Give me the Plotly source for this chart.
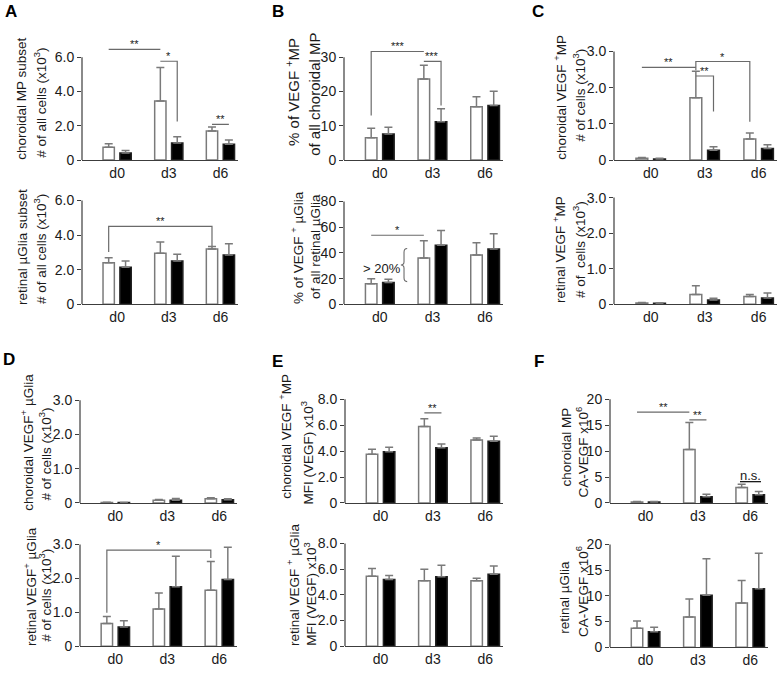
import plotly.graph_objects as go

W, H = 781, 673
days = ["d0", "d3", "d6"]
xidx = [0, 1, 2]

# ---------------- data: bar means and upper error (SEM) ----------------
A1_white = [0.75, 3.45, 1.70]
A1_white_err = [0.20, 1.95, 0.23]
A1_black = [0.42, 1.00, 0.92]
A1_black_err = [0.14, 0.36, 0.25]
A1_ticks = [0, 2, 4, 6]
A1_labels = ["0", "2.0", "4.0", "6.0"]

A2_white = [2.40, 2.95, 3.20]
A2_white_err = [0.30, 0.65, 0.15]
A2_black = [2.15, 2.50, 2.85]
A2_black_err = [0.35, 0.40, 0.65]
A2_ticks = [0, 2, 4, 6]
A2_labels = ["0", "2.0", "4.0", "6.0"]

B1_white = [6.5, 23.7, 15.6]
B1_white_err = [2.8, 4.0, 2.9]
B1_black = [7.6, 11.2, 15.9]
B1_black_err = [2.0, 3.8, 4.2]
B1_ticks = [0, 10, 20, 30]
B1_labels = ["0", "10", "20", "30"]

B2_white = [16.0, 36.0, 38.5]
B2_white_err = [4.0, 13.5, 9.5]
B2_black = [17.0, 46.0, 43.0]
B2_black_err = [2.5, 11.5, 12.0]
B2_ticks = [0, 20, 40, 60, 80]
B2_labels = ["0", "20", "40", "60", "80"]

C1_white = [0.05, 1.72, 0.58]
C1_white_err = [0.02, 0.73, 0.17]
C1_black = [0.03, 0.27, 0.32]
C1_black_err = [0.02, 0.10, 0.10]
C1_ticks = [0, 1, 2, 3]
C1_labels = ["0", "1.0", "2.0", "3.0"]

C2_white = [0.04, 0.28, 0.22]
C2_white_err = [0.01, 0.24, 0.06]
C2_black = [0.03, 0.12, 0.18]
C2_black_err = [0.01, 0.05, 0.14]
C2_ticks = [0, 1, 2, 3]
C2_labels = ["0", "1.0", "2.0", "3.0"]

D1_white = [0.01, 0.08, 0.12]
D1_white_err = [0.01, 0.02, 0.03]
D1_black = [0.01, 0.08, 0.09]
D1_black_err = [0.005, 0.05, 0.03]
D1_ticks = [0, 1, 2, 3]
D1_labels = ["0", "1.0", "2.0", "3.0"]

D2_white = [0.67, 1.10, 1.65]
D2_white_err = [0.21, 0.47, 0.85]
D2_black = [0.57, 1.75, 1.97]
D2_black_err = [0.18, 0.90, 0.95]
D2_ticks = [0, 1, 2, 3]
D2_labels = ["0", "1.0", "2.0", "3.0"]

E1_white = [3.75, 5.90, 4.85]
E1_white_err = [0.40, 0.60, 0.15]
E1_black = [3.95, 4.25, 4.75]
E1_black_err = [0.35, 0.30, 0.40]
E1_ticks = [0, 2, 4, 6, 8]
E1_labels = ["0", "2.0", "4.0", "6.0", "8.0"]

E2_white = [5.45, 5.10, 5.10]
E2_white_err = [0.60, 0.90, 0.20]
E2_black = [5.20, 5.40, 5.60]
E2_black_err = [0.30, 0.90, 0.65]
E2_ticks = [0, 2, 4, 6, 8]
E2_labels = ["0", "2.0", "4.0", "6.0", "8.0"]

F1_white = [0.20, 10.3, 3.00]
F1_white_err = [0.10, 5.2, 0.60]
F1_black = [0.20, 1.20, 1.60]
F1_black_err = [0.10, 0.50, 0.60]
F1_ticks = [0, 5, 10, 15, 20]
F1_labels = ["0", "5", "10", "15", "20"]

F2_white = [3.7, 5.9, 8.6]
F2_white_err = [1.4, 3.5, 4.4]
F2_black = [3.0, 10.1, 11.4]
F2_black_err = [0.9, 7.1, 6.9]
F2_ticks = [0, 5, 10, 15, 20]
F2_labels = ["0", "5", "10", "15", "20"]

# ---------------- panel layout (pixel boxes of the axes) ----------------
panels = [
    dict(key="A1", w=A1_white, we=A1_white_err, b=A1_black, be=A1_black_err, tv=A1_ticks, tt=A1_labels, box=(82, 238, 58, 162),
         t1=("choroidal MP subset", 22, 100), t2=("# of all cells (x10<sup>3</sup>)", 40, 104), fs=13.5),
    dict(key="A2", w=A2_white, we=A2_white_err, b=A2_black, be=A2_black_err, tv=A2_ticks, tt=A2_labels, box=(82, 238, 203, 308),
         t1=("retinal µGlia subset", 22, 250), t2=("# of all cells (x10<sup>3</sup>)", 40, 252), fs=13.5),
    dict(key="B1", w=B1_white, we=B1_white_err, b=B1_black, be=B1_black_err, tv=B1_ticks, tt=B1_labels, box=(344, 503, 58, 162),
         t1=("% of VEGF <sup>+</sup>MP", 293, 93), t2=("of all choroidal MP", 315, 96), fs=15),
    dict(key="B2", w=B2_white, we=B2_white_err, b=B2_black, be=B2_black_err, tv=B2_ticks, tt=B2_labels, box=(344, 503, 204, 308),
         t1=("% of VEGF <sup>+</sup> µGlia", 297, 251), t2=("of all retinal µGlia", 315, 250), fs=13.5),
    dict(key="C1", w=C1_white, we=C1_white_err, b=C1_black, be=C1_black_err, tv=C1_ticks, tt=C1_labels, box=(614, 777, 52, 162),
         t1=("choroidal VEGF <sup>+</sup>MP", 560, 99), t2=("# of cells (x10<sup>3</sup>)", 579, 97), fs=13.5),
    dict(key="C2", w=C2_white, we=C2_white_err, b=C2_black, be=C2_black_err, tv=C2_ticks, tt=C2_labels, box=(614, 777, 200, 308),
         t1=("retinal VEGF <sup>+</sup>MP", 559, 253), t2=("# of  cells (x10<sup>3</sup>)", 579, 253), fs=13.5),
    dict(key="D1", w=D1_white, we=D1_white_err, b=D1_black, be=D1_black_err, tv=D1_ticks, tt=D1_labels, box=(80, 237, 405, 509),
         t1=("choroidal VEGF<sup>+</sup> µGlia", 27, 448), t2=("# of cells (x10<sup>3</sup>)", 45, 460), fs=13.5),
    dict(key="D2", w=D2_white, we=D2_white_err, b=D2_black, be=D2_black_err, tv=D2_ticks, tt=D2_labels, box=(80, 237, 551, 654),
         t1=("retinal VEGF<sup>+</sup> µGlia", 30, 593), t2=("# of cells (x10<sup>3</sup>)", 45, 603), fs=13.5),
    dict(key="E1", w=E1_white, we=E1_white_err, b=E1_black, be=E1_black_err, tv=E1_ticks, tt=E1_labels, box=(345, 503, 404, 509),
         t1=("choroidal VEGF <sup>+</sup>MP", 285, 442), t2=("MFI (VEGF) x10<sup>3</sup>", 307, 458), fs=13.5),
    dict(key="E2", w=E2_white, we=E2_white_err, b=E2_black, be=E2_black_err, tv=E2_ticks, tt=E2_labels, box=(345, 503, 550, 654),
         t1=("retinal VEGF <sup>+</sup> µGlia", 293, 592), t2=("MFI (VEGF) x10<sup>3</sup>", 310, 601), fs=13.5),
    dict(key="F1", w=F1_white, we=F1_white_err, b=F1_black, be=F1_black_err, tv=F1_ticks, tt=F1_labels, box=(610, 768, 404, 509),
         t1=("choroidal MP", 567, 453), t2=("CA-VEGF x10<sup>6</sup>", 582, 458), fs=13.5),
    dict(key="F2", w=F2_white, we=F2_white_err, b=F2_black, be=F2_black_err, tv=F2_ticks, tt=F2_labels, box=(610, 768, 551, 655),
         t1=("retinal µGlia", 565, 605), t2=("CA-VEGF x10<sup>6</sup>", 582, 599), fs=13.5),
]

panel_letters = [("A", 11, 12), ("B", 278, 12), ("C", 538, 12), ("D", 9, 364), ("E", 277, 366), ("F", 539, 366)]

# significance brackets: (panel, [(day index, 'w'/'b', y), ...], label)
brackets = [
    ("A1", [(0, "w", 6.46), (1, "w", 6.46)], "**"),
    ("A1", [(1, "w", 5.77), (1, "b", 5.77), (1, "b", 2.25)], "*"),
    ("A1", [(2, "w", 2.08), (2, "b", 2.08)], "**"),
    ("A2", [(0, "w", 3.03), (0, "w", 4.51), (2, "w", 4.51), (2, "w", 3.37)], "**"),
    ("B1", [(0, "w", 13.0), (0, "w", 31.7), (1, "w", 31.7)], "***"),
    ("B1", [(1, "w", 28.8), (1, "b", 28.8), (1, "b", 15.9)], "***"),
    ("B2", [(0, "w", 53.8), (1, "w", 53.8)], "*"),
    ("C1", [(0, "w", 2.56), (1, "w", 2.56)], "**"),
    ("C1", [(1, "w", 2.32), (1, "b", 2.32), (1, "b", 1.34)], "**"),
    ("C1", [(1, "w", 2.48), (1, "w", 2.72), (2, "w", 2.72), (2, "w", 1.06)], "*"),
    ("D2", [(0, "w", 0.99), (0, "w", 2.83), (2, "w", 2.83), (2, "w", 2.60)], "*"),
    ("E1", [(1, "w", 6.95), (1, "b", 6.95)], "**"),
    ("F1", [(0, "w", 17.5), (1, "w", 17.5)], "**"),
    ("F1", [(1, "w", 16.0), (1, "b", 16.0)], "**"),
]

FONT = "Liberation Sans, Arial, sans-serif"
TXT = "#1a1a1a"
AX = "#3c3c3c"
BAR_EDGE = "#7a7a7a"
ERR = "#7a7a7a"
SIG = "#6a6a6a"
XR = [-0.68, 2.34]
EXT = 1.2
OFF = 0.1635

fig = go.Figure()
lay = {}
shapes = []
annots = []
idx_of = {}

for i, p in enumerate(panels, start=1):
    xa = "x" if i == 1 else f"x{i}"
    ya = "y" if i == 1 else f"y{i}"
    idx_of[p["key"]] = (xa, ya)
    left, right, top, bottom = p["box"]
    ymax = p["tv"][-1]
    top_ext = bottom - (bottom - top) * EXT
    lay["xaxis" if i == 1 else f"xaxis{i}"] = dict(
        domain=[left / W, right / W], range=XR, anchor=ya, tickvals=xidx, ticktext=days,
        showline=True, linecolor=AX, linewidth=1.2, ticks="", showgrid=False, zeroline=False,
        tickfont=dict(size=14, color=TXT, family=FONT), fixedrange=True)
    lay["yaxis" if i == 1 else f"yaxis{i}"] = dict(
        domain=[1 - bottom / H, 1 - top_ext / H], range=[0, ymax * EXT], anchor=xa,
        tickvals=p["tv"], ticktext=p["tt"], showline=False, ticks="outside", ticklen=4,
        tickwidth=1.2, tickcolor=AX, showgrid=False, zeroline=False,
        tickfont=dict(size=14, color=TXT, family=FONT), fixedrange=True)
    shapes.append(dict(type="line", xref=f"{xa} domain", yref=ya, x0=0, x1=0, y0=0, y1=ymax,
                       line=dict(color=AX, width=1.2)))
    fig.add_trace(go.Bar(x=xidx, y=p["w"], xaxis=xa, yaxis=ya, showlegend=False,
                         marker=dict(color="white", line=dict(color=BAR_EDGE, width=1.5)),
                         error_y=dict(type="data", array=p["we"], arrayminus=[0, 0, 0], symmetric=False,
                                      color=ERR, thickness=1.5, width=4)))
    fig.add_trace(go.Bar(x=xidx, y=p["b"], xaxis=xa, yaxis=ya, showlegend=False,
                         marker=dict(color="black", line=dict(color="#222222", width=1.5)),
                         error_y=dict(type="data", array=p["be"], arrayminus=[0, 0, 0], symmetric=False,
                                      color=ERR, thickness=1.5, width=4)))
    for (txt, px, py) in (p["t1"], p["t2"]):
        annots.append(dict(text=txt, x=px / W, y=1 - py / H, xref="paper", yref="paper",
                           textangle=-90, showarrow=False, xanchor="center", yanchor="middle",
                           font=dict(size=p["fs"], color=TXT, family=FONT)))

for (key, pts, label) in brackets:
    xa, ya = idx_of[key]
    xy = [(d + (-OFF if g == "w" else OFF), y) for (d, g, y) in pts]
    path = "M " + " L ".join(f"{x:.4f},{y:.4f}" for x, y in xy)
    shapes.append(dict(type="path", path=path, xref=xa, yref=ya, line=dict(color=SIG, width=1.2)))
    ytop = max(y for _, y in xy)
    xs = [x for x, y in xy if y == ytop]
    annots.append(dict(text=label, x=sum(xs) / len(xs), y=ytop, xref=xa, yref=ya, showarrow=False,
                       xanchor="center", yanchor="bottom", yshift=-3,
                       font=dict(size=11, color=TXT, family=FONT)))

# n.s. in panel F top
xa, ya = idx_of["F1"]
annots.append(dict(text="<u>n.s.</u>", x=2, y=3.5, xref=xa, yref=ya, showarrow=False,
                   xanchor="center", yanchor="bottom", font=dict(size=13, color=TXT, family=FONT)))

# "> 20%" and brace in panel B bottom
xa, ya = idx_of["B2"]
annots.append(dict(text="> 20%", x=0.04, y=28, xref=xa, yref=ya, showarrow=False,
                   xanchor="center", yanchor="middle", font=dict(size=13, color=TXT, family=FONT)))
bx, by0, by1 = 0.46, 17.7, 43.5
bm = (by0 + by1) / 2
shapes.append(dict(type="path", xref=xa, yref=ya, line=dict(color=SIG, width=1.1),
                   path=(f"M {bx+0.06},{by1} Q {bx},{by1} {bx},{by1-3} L {bx},{bm+2.5} "
                         f"Q {bx},{bm} {bx-0.06},{bm} Q {bx},{bm} {bx},{bm-2.5} "
                         f"L {bx},{by0+3} Q {bx},{by0} {bx+0.06},{by0}")))

for (L, px, py) in panel_letters:
    annots.append(dict(text=f"<b>{L}</b>", x=px / W, y=1 - py / H, xref="paper", yref="paper",
                       showarrow=False, xanchor="center", yanchor="middle",
                       font=dict(size=17, color="black", family=FONT)))

fig.update_layout(
    width=W, height=H, margin=dict(l=0, r=0, t=0, b=0),
    paper_bgcolor="white", plot_bgcolor="white",
    barmode="group", bargap=0.346, bargroupgap=0.33,
    shapes=shapes, annotations=annots, font=dict(family=FONT, color=TXT),
    **lay)

fig.write_html("out.html", config={"displayModeBar": False},
               post_script="document.body.style.margin='0px';document.body.style.overflow='hidden';")
